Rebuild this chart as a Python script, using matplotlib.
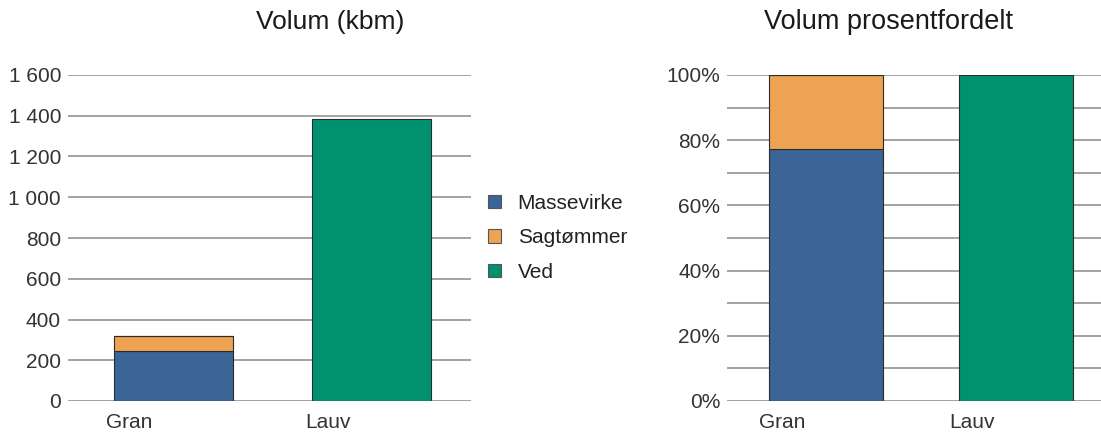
import matplotlib.pyplot as plt
from matplotlib.patches import Patch
from matplotlib.transforms import ScaledTranslation
import numpy as np

plt.rcParams['font.family'] = ['Liberation Sans', 'DejaVu Sans']

# data
categories = ['Gran', 'Lauv']
series = ['Massevirke', 'Sagtømmer', 'Ved']
massevirke = [247, 0]
sagtommer = [73, 0]
ved = [0, 1384]
colors = ['#3A6596', '#EEA353', '#00926E']

TXT = '#333333'
GRID = '#8a8a8a'

fig = plt.figure(figsize=(11.01, 4.38), dpi=100)
ax1 = fig.add_axes([68 / 1101, 37 / 438, 403 / 1101, 326 / 438])
ax2 = fig.add_axes([727 / 1101, 37 / 438, 374 / 1101, 326 / 438])

x = np.arange(len(categories))
values = np.array([massevirke, sagtommer, ved], dtype=float)
totals = values.sum(axis=0)
shares = values / totals * 100


def stack(ax, vals):
    bottom = np.zeros(len(categories))
    for v, c in zip(vals, colors):
        ax.bar(x, v, 0.6, bottom=bottom, color=c, edgecolor='#2b2b2b',
               linewidth=0.8, zorder=3)
        bottom += v


def style(ax):
    for s in ax.spines.values():
        s.set_visible(False)
    ax.grid(axis='y', color=GRID, linewidth=1.1, zorder=0)
    ax.tick_params(length=0, labelsize=15, labelcolor=TXT)
    ax.tick_params(axis='y', pad=5)
    ax.tick_params(axis='x', pad=9)
    ax.set_xticks(x)
    ax.set_xticklabels(categories)
    # category labels sit left of the bar centres in the original
    shift = ScaledTranslation(-44 / 100, 0, fig.dpi_scale_trans)
    for lab in ax.get_xticklabels():
        lab.set_transform(lab.get_transform() + shift)


stack(ax1, values)
ax1.set_xlim(-0.53, 1.5)
ax1.set_ylim(0, 1600)
ticks1 = np.arange(0, 1601, 200)
ax1.set_yticks(ticks1)
ax1.set_yticklabels([f'{int(t):,}'.replace(',', ' ') for t in ticks1])
style(ax1)

stack(ax2, shares)
ax2.set_xlim(-0.52, 1.45)
ax2.set_ylim(0, 100)
ticks2 = np.arange(0, 101, 10)
ax2.set_yticks(ticks2)
ax2.set_yticklabels([f'{t}%' if t % 20 == 0 else '' for t in ticks2])
style(ax2)

fig.text(330 / 1101, 1 - 22 / 438, 'Volum (kbm)', ha='center', va='center',
         fontsize=19, color='#1a1a1a')
fig.text(889 / 1101, 1 - 22 / 438, 'Volum prosentfordelt', ha='center',
         va='center', fontsize=19.5, color='#1a1a1a')

handles = [Patch(facecolor=c, edgecolor='#555555', linewidth=0.8) for c in colors]
fig.legend(handles, series, loc='center left',
           bbox_to_anchor=(488 / 1101, 1 - 238 / 438), frameon=False,
           fontsize=15, handlelength=0.62, handleheight=0.62,
           handletextpad=0.8, labelspacing=0.74, borderpad=0,
           borderaxespad=0, labelcolor='#222222')

fig.savefig('out.png', dpi=100)
